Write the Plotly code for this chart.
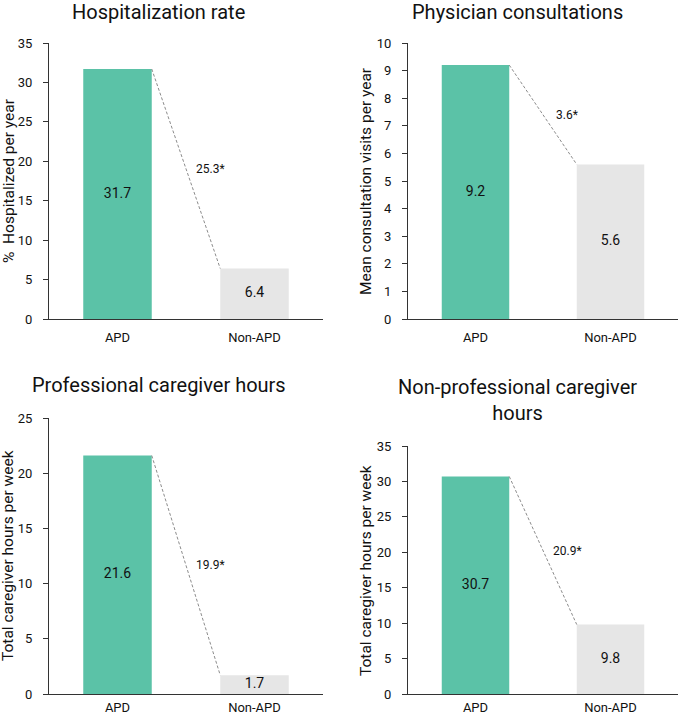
import plotly.graph_objects as go

categories = ["APD", "Non-APD"]
titles = ["Hospitalization rate", "Physician consultations",
          "Professional caregiver hours", "Non-professional caregiver<br>hours"]
y_titles = ["%  Hospitalized per year", "Mean consultation visits per year",
            "Total caregiver hours per week", "Total caregiver hours per week"]
apd_values = [31.7, 9.2, 21.6, 30.7]
non_apd_values = [6.4, 5.6, 1.7, 9.8]
diff_labels = ["25.3*", "3.6*", "19.9*", "20.9*"]
y_max = [35, 10, 25, 35]
y_dtick = [5, 1, 5, 5]

W, H = 685, 718
FONT = "Roboto"
GREEN = "#5BC2A7"
GREY = "#E6E6E6"
AXIS = "#333333"
BAR_W = 0.5

# panel pixel boxes: (left, right, top, bottom)
boxes = [(49, 323, 43, 319), (408, 678, 43, 319),
         (49, 323, 418, 694), (408, 678, 446, 694)]
title_pos = [(158, 12), (517, 12), (159, 385), (517, 400)]
ytitle_x = [9, 366, 8, 366]
xlabel_standoff = [6, 6, 1, 1]

fig = go.Figure()
annotations = []
for i in range(4):
    l, r, t, b = boxes[i]
    xa = "x" if i == 0 else f"x{i+1}"
    ya = "y" if i == 0 else f"y{i+1}"
    vals = [apd_values[i], non_apd_values[i]]
    fig.add_trace(go.Bar(x=[0, 1], y=vals, width=BAR_W,
                         marker=dict(color=[GREEN, GREY], line=dict(width=0)),
                         xaxis=xa, yaxis=ya, showlegend=False, hoverinfo="skip"))
    # dashed connector from top-right of APD bar to top-left of Non-APD bar
    fig.add_trace(go.Scatter(x=[0 + BAR_W / 2, 1 - BAR_W / 2], y=vals, mode="lines",
                             line=dict(color="#8c8c8c", width=1, dash="3px,2px"),
                             xaxis=xa, yaxis=ya, showlegend=False, hoverinfo="skip"))
    # value labels in the middle of bars
    fig.add_trace(go.Scatter(x=[0, 1], y=[v / 2 for v in vals], mode="text",
                             text=[f"{v:.1f}" for v in vals],
                             textfont=dict(family=FONT, size=14, color="#111"),
                             xaxis=xa, yaxis=ya, showlegend=False, hoverinfo="skip"))
    # difference label
    annotations.append(dict(x=0.68, y=(vals[0] + vals[1]) / 2, xref=xa, yref=ya,
                            text=diff_labels[i], showarrow=False,
                            font=dict(family=FONT, size=12, color="#111")))
    # subplot title
    tx, ty = title_pos[i]
    annotations.append(dict(x=tx / W, y=1 - ty / H, xref="paper", yref="paper",
                            text=titles[i], showarrow=False, xanchor="center", yanchor="middle",
                            font=dict(family=FONT, size=20, color="#111")))
    # y axis title
    annotations.append(dict(x=ytitle_x[i] / W, y=1 - (t + b) / 2 / H, xref="paper", yref="paper",
                            text=y_titles[i], showarrow=False, textangle=-90,
                            xanchor="center", yanchor="middle",
                            font=dict(family=FONT, size=15.5, color="#111")))
    sfx = "" if i == 0 else str(i + 1)
    fig.update_layout(**{
        f"xaxis{sfx}": dict(domain=[l / W, r / W], range=[-0.5, 1.5], anchor=ya,
                            tickmode="array", tickvals=[0, 1], ticktext=categories,
                            showline=True, linecolor=AXIS, linewidth=1.2, ticks="",
                            showgrid=False, zeroline=False, fixedrange=True,
                            ticklabelstandoff=xlabel_standoff[i], automargin=False,
                            tickfont=dict(family=FONT, size=13, color="#111")),
        f"yaxis{sfx}": dict(domain=[1 - b / H, 1 - t / H], range=[0, y_max[i]], anchor=xa,
                            dtick=y_dtick[i], tick0=0, showline=True, linecolor=AXIS,
                            linewidth=1, ticks="outside", ticklen=5, tickcolor=AXIS,
                            showgrid=False, zeroline=False, fixedrange=True,
                            ticklabelstandoff=8, automargin=False,
                            tickfont=dict(family=FONT, size=13, color="#111")),
    })

fig.update_layout(width=W, height=H,
                  margin=dict(l=0, r=0, t=0, b=0, pad=0, autoexpand=False),
                  paper_bgcolor="white", plot_bgcolor="white",
                  annotations=annotations, bargap=0.5)
fig.write_html("out.html", config={"displayModeBar": False},
               post_script="document.body.style.margin='0';"
                           "document.body.style.overflow='hidden';"
                           "document.documentElement.style.overflow='hidden';")
